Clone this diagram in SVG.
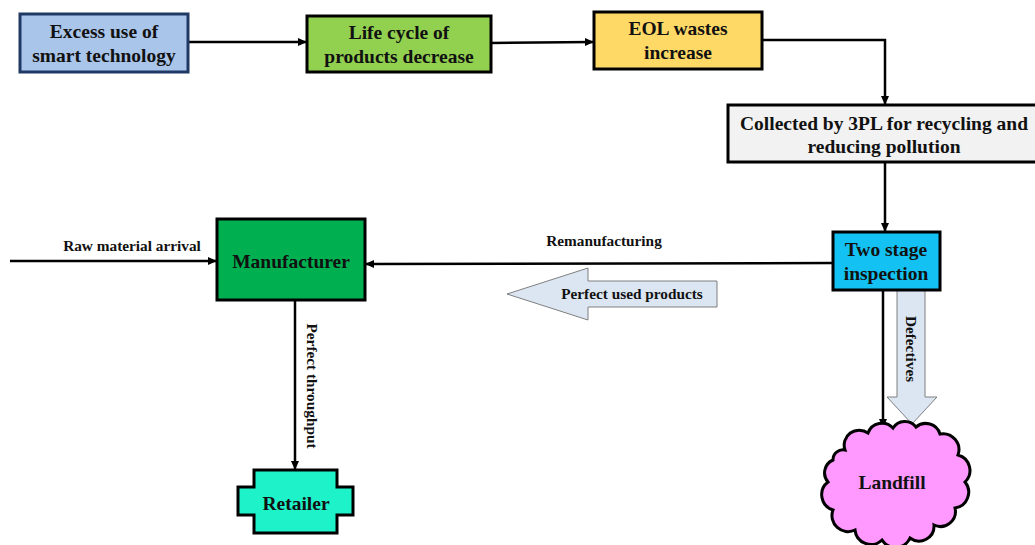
<svg xmlns="http://www.w3.org/2000/svg" width="1035" height="545" viewBox="0 0 1035 545">
<style>
.t{font-family:"Liberation Serif","Times New Roman",serif;font-weight:bold;fill:#111;text-anchor:middle}
.b{font-size:19.5px}
.s{font-size:15.3px}
.box{stroke:#000;stroke-width:3}
.ln{fill:none;stroke:#000;stroke-width:2.5}
</style>
<defs>
<marker id="ah" markerWidth="10" markerHeight="10" refX="8" refY="5" orient="auto" markerUnits="userSpaceOnUse">
<path d="M0,1 L9,5 L0,9 Z" fill="#000"/>
</marker>
</defs>
<rect width="1035" height="545" fill="#fff"/>
<g id="connectors">
<line class="ln" x1="188" y1="42" x2="306" y2="42" marker-end="url(#ah)"/>
<line class="ln" x1="491" y1="43" x2="593" y2="42" marker-end="url(#ah)"/>
<polyline class="ln" points="762,40 885,40 885,104" marker-end="url(#ah)"/>
<line class="ln" x1="885" y1="162" x2="885" y2="231" marker-end="url(#ah)"/>
<line class="ln" x1="833" y1="263" x2="366" y2="264" marker-end="url(#ah)"/>
<line class="ln" x1="10" y1="261" x2="216" y2="261" marker-end="url(#ah)"/>
<line class="ln" x1="295" y1="300" x2="295" y2="469" marker-end="url(#ah)"/>
<line class="ln" x1="883" y1="290" x2="883" y2="427" marker-end="url(#ah)"/>
<text class="t s" x="132" y="251">Raw material arrival</text>
<text class="t s" x="604" y="246">Remanufacturing</text>
<path d="M507,294 L588,268 L588,281 L717,281 L717,307 L588,307 L588,320 Z" fill="#DCE6F2" stroke="#7f7f7f" stroke-width="1"/>
<text class="t s" x="632" y="299">Perfect used products</text>
<path d="M897,290 L925,290 L925,397 L937,397 L912,424 L887,397 L897,397 Z" fill="#DCE6F2" stroke="#7f7f7f" stroke-width="1"/>
<text class="t s" transform="translate(906,349) rotate(90)">Defectives</text>
<text class="t s" transform="translate(307,386) rotate(90)">Perfect throughput</text>
</g>
<g id="n-excess">
<rect x="20" y="14" width="168" height="58" fill="#A9C5EA" stroke="#1F3864" stroke-width="3"/>
<text class="t b" x="104" y="38">Excess use of</text>
<text class="t b" x="104" y="62">smart technology</text>
</g>
<g id="n-lifecycle">
<rect class="box" x="307" y="16" width="184" height="56" fill="#92D050"/>
<text class="t b" x="399" y="39">Life cycle of</text>
<text class="t b" x="399" y="63">products decrease</text>
</g>
<g id="n-eol">
<rect class="box" x="594" y="12" width="168" height="57" fill="#FFD966"/>
<text class="t b" x="678" y="35">EOL wastes</text>
<text class="t b" x="678" y="59">increase</text>
</g>
<g id="n-collected">
<rect class="box" x="728" y="105" width="312" height="57" fill="#F2F2F2"/>
<text class="t b" x="884" y="130">Collected by 3PL for recycling and</text>
<text class="t b" x="884" y="153">reducing pollution</text>
</g>
<g id="n-inspection">
<rect class="box" x="833" y="232" width="107" height="58" fill="#13C2F2"/>
<text class="t b" x="886" y="256">Two  stage</text>
<text class="t b" x="886" y="280">inspection</text>
</g>
<g id="n-manufacturer">
<rect class="box" x="217" y="219" width="148" height="81" fill="#00B050"/>
<text class="t b" x="291" y="268">Manufacturer</text>
</g>
<g id="n-retailer">
<path class="box" d="M254,470 L337,470 L337,487 L353,487 L353,515 L337,515 L337,533 L254,533 L254,515 L238,515 L238,487 L254,487 Z" fill="#1DF2C8"/>
<text class="t b" x="296" y="510">Retailer</text>
</g>
<g id="n-landfill">
<path class="box" d="M845,450 A15,15 0 0 1 868,433 A15,15 0 0 1 893,428 A14,14 0 0 1 916,427 A15,15 0 0 1 940,434 A16,16 0 0 1 958,455 A16,16 0 0 1 965,482 A16,16 0 0 1 955,508 A15,15 0 0 1 934,525 A15,15 0 0 1 910,538 A16,16 0 0 1 882,540 A16,16 0 0 1 855,530 A16,16 0 0 1 833,510 A16,16 0 0 1 828,482 A14,14 0 0 1 833,460 A10,10 0 0 1 845,450 Z" fill="#FF99FF"/>
<text class="t b" x="892" y="489">Landfill</text>
</g>
</svg>
